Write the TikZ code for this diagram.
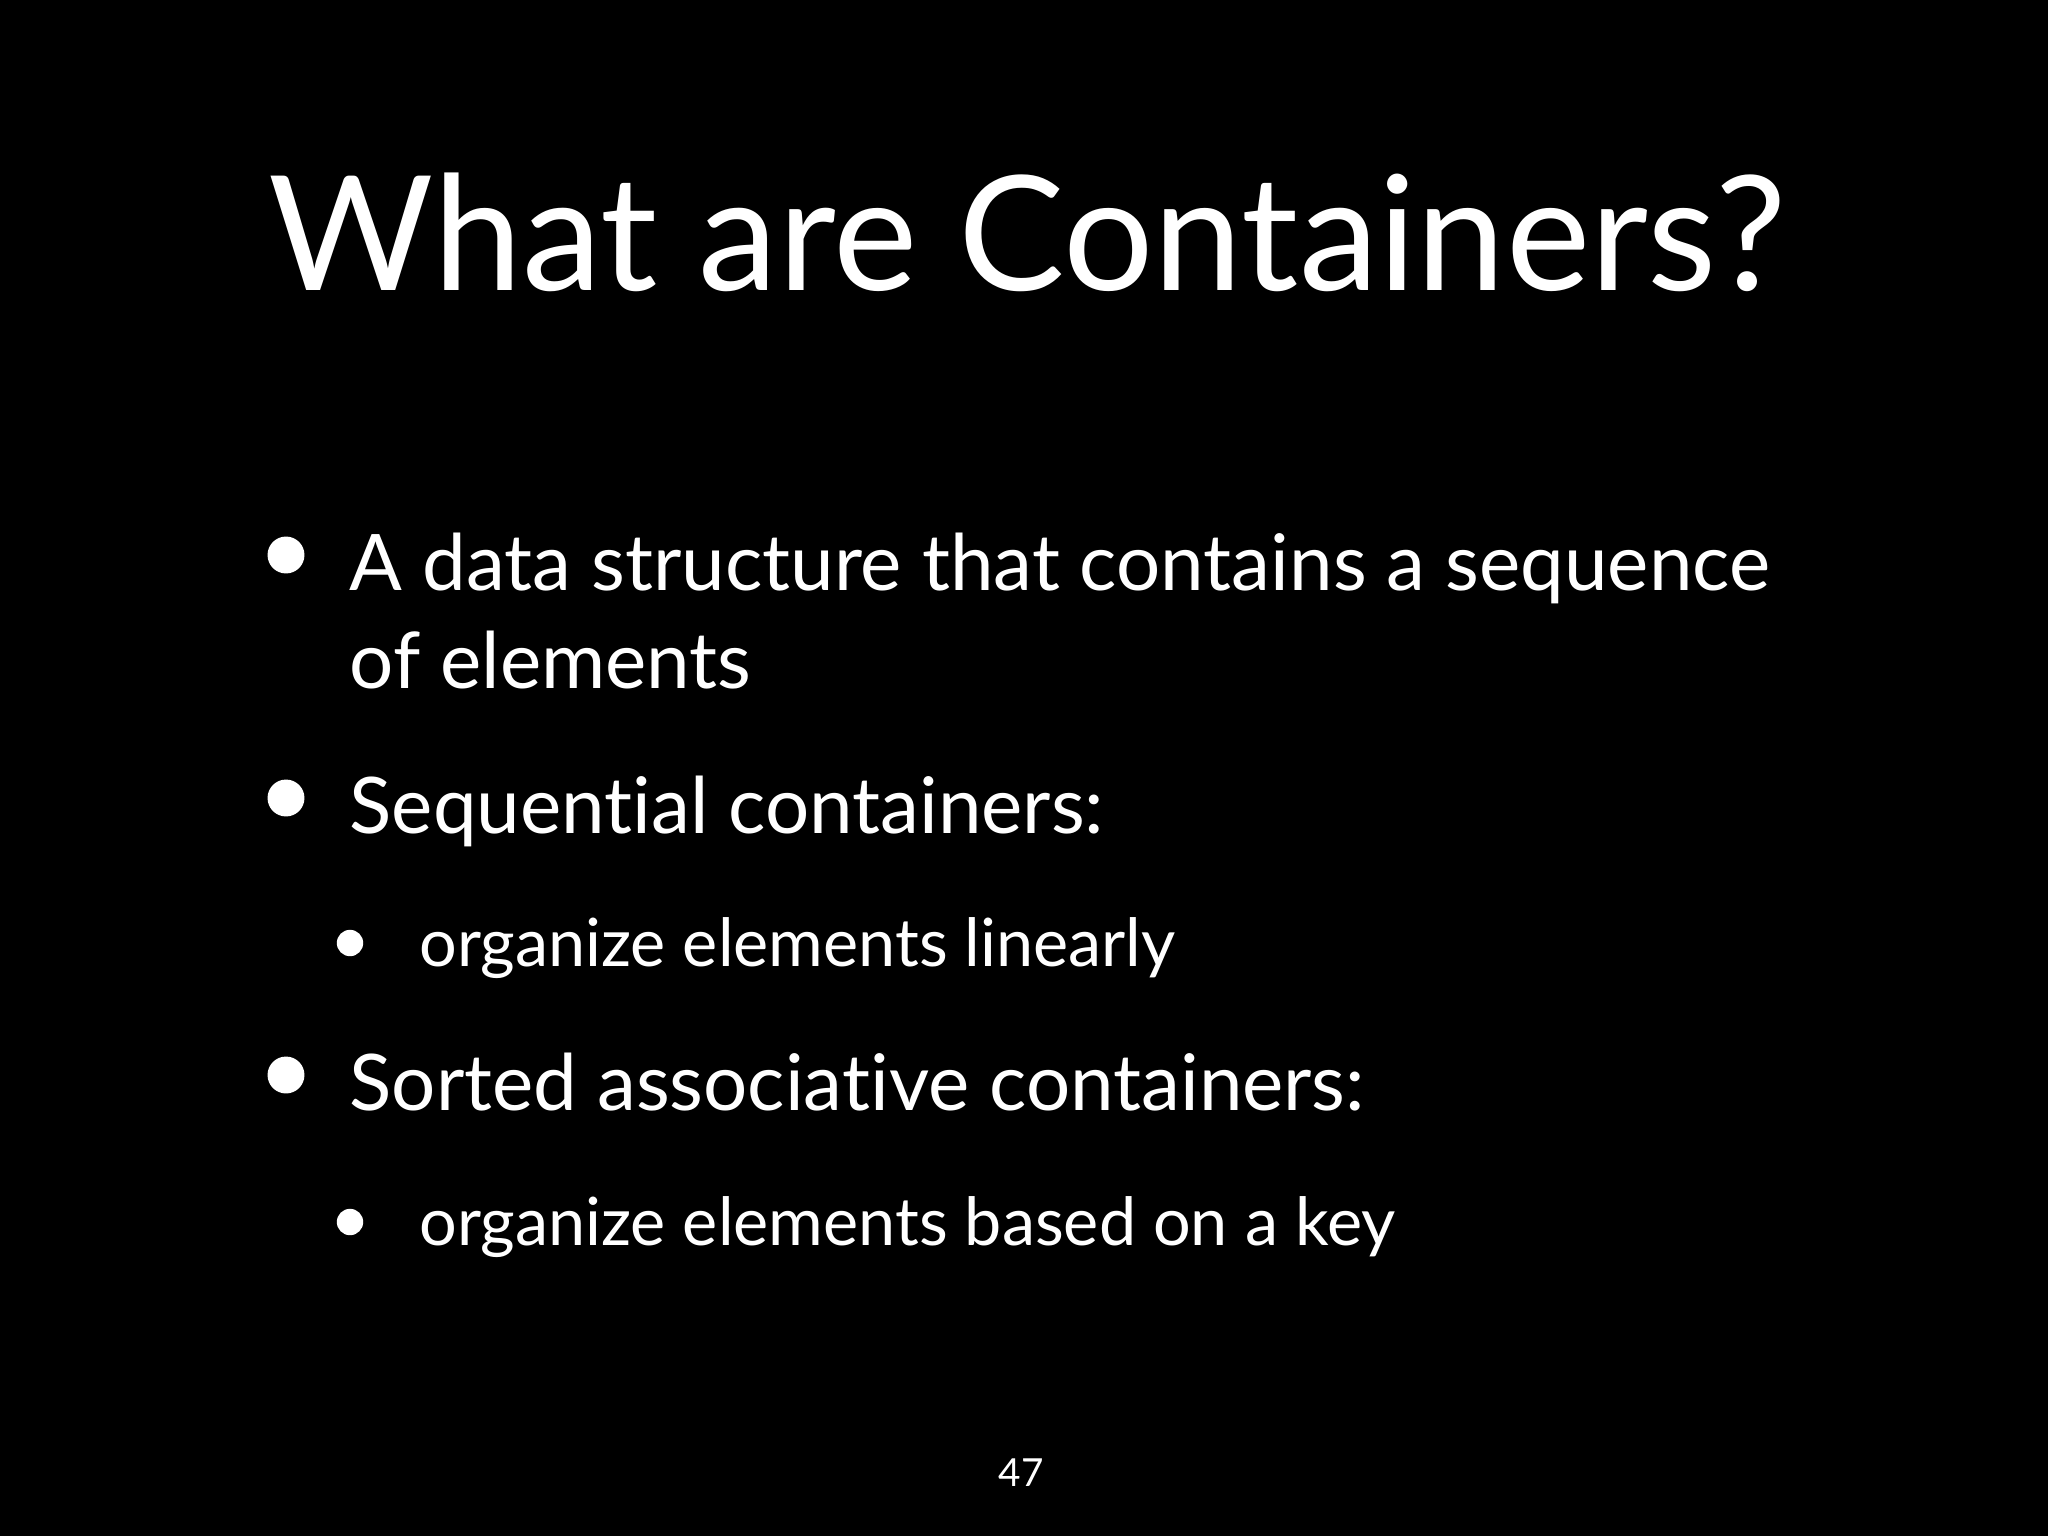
\documentclass[tikz,border=0pt]{standalone}
\usepackage{fontspec}
\setmainfont{Lato}[Ligatures=NoCommon]
\begin{document}
\begin{tikzpicture}[x=0.01cm,y=-0.01cm,
  txt/.style={text=white,inner sep=0pt,anchor=base west},
  main/.style={txt,font=\fontsize{22.2}{27}\selectfont},
  sub/.style={txt,font=\fontsize{18.9}{23}\selectfont},
  dot/.style={circle,fill=white,inner sep=0pt}]
\fill[black] (0,0) rectangle (2048,1536);
\useasboundingbox (0,0) rectangle (2048,1536);
\node[txt,font=\fontsize{45.4}{55}\selectfont] (title) at (268,290) {What are Containers?};
\node[dot,minimum size=10.5pt] (b1) at (286,555) {};
\node[main] (t1) at (349,590) {A data structure that contains a sequence};
\node[main] (t1b) at (349,688) {of elements};
\node[dot,minimum size=10.5pt] (b2) at (286,798) {};
\node[main] (t2) at (349,833) {Sequential containers:};
\node[dot,minimum size=7.5pt] (b3) at (350,943) {};
\node[sub] (t3) at (419,966) {organize elements linearly};
\node[dot,minimum size=10.5pt] (b4) at (286,1075) {};
\node[main] (t4) at (349,1110) {Sorted associative containers:};
\node[dot,minimum size=7.5pt] (b5) at (350,1222) {};
\node[sub] (t5) at (419,1245) {organize elements based on a key};
\node[txt,anchor=base,font=\fontsize{11}{13}\selectfont] (pg) at (1021,1486) {47};
\end{tikzpicture}
\end{document}
